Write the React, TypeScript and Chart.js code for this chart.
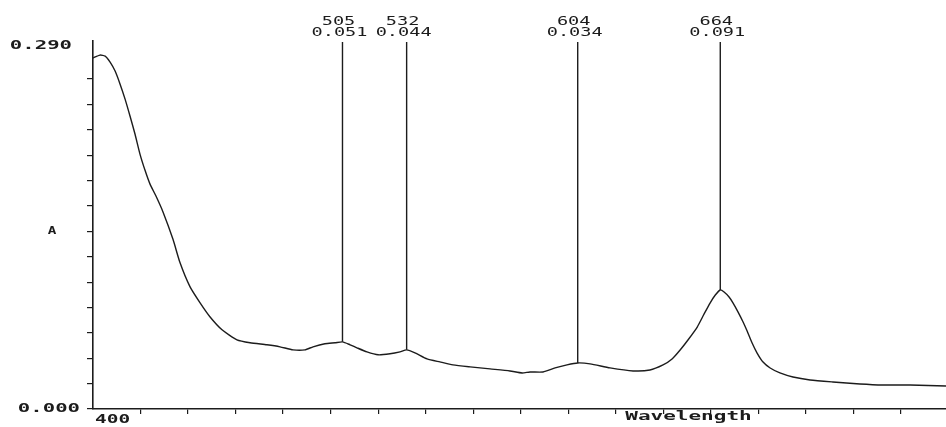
import React, { useEffect, useRef } from "react";
import { Chart, registerables } from "chart.js";

Chart.register(...registerables);

const wavelengths = [
  400, 402.9, 405.1, 407.2, 409.3, 411.4, 413.5, 415.6, 417.7, 419.8, 421.9, 424, 426.5, 429.5, 433.7,
  436.6, 440.8, 445, 449.2, 454.3, 460.6, 466.1, 473.2, 478.7, 484.2, 489.2, 492.6, 497.6, 501.9, 505,
  508.2, 511.1, 515.3, 520, 525, 529.2, 532, 535.5, 540.6, 546, 551.5, 558.7, 567.1, 575.5, 580.6, 583.9,
  589.4, 594.5, 599.5, 604, 609.2, 617.6, 627.3, 634.4, 639.9, 643.7, 647.1, 650.4, 654.3, 657.2, 659.7,
  661.9, 664, 665.6, 667.7, 669.4, 671.5, 673.6, 675.3, 677.4, 679.5, 682, 685, 689.1, 694.6, 701.8,
  711.4, 722.8, 732.5, 743.9, 759,
];
const absorbance = [
  0.2766, 0.2789, 0.2781, 0.2734, 0.2663, 0.256, 0.2442, 0.2307, 0.2165, 0.2007, 0.1881, 0.1772, 0.1678,
  0.1551, 0.1335, 0.1154, 0.0964, 0.0838, 0.0727, 0.0624, 0.0545, 0.0522, 0.0506, 0.049, 0.0466, 0.0466,
  0.049, 0.0514, 0.0522, 0.0529, 0.0506, 0.0482, 0.045, 0.0427, 0.0435, 0.045, 0.0466, 0.0443, 0.0395,
  0.0371, 0.0348, 0.0332, 0.0316, 0.03, 0.0284, 0.0292, 0.0292, 0.0324, 0.0348, 0.0363, 0.0356, 0.0324,
  0.03, 0.0307, 0.0347, 0.0394, 0.0465, 0.0544, 0.0646, 0.0749, 0.0835, 0.0898, 0.0938, 0.0922, 0.0883,
  0.0835, 0.0764, 0.0686, 0.0615, 0.052, 0.0441, 0.037, 0.0323, 0.0284, 0.0252, 0.0229, 0.0213, 0.0197,
  0.0189, 0.0189, 0.0181,
];
const peakWavelengths = [505, 532, 604, 664];
const peakValues = [0.051, 0.044, 0.034, 0.091];
const yAxisLabels = ["0.000", "0.290"];
const xStartLabel = "400";
const xTitle = "Wavelength";
const yTitle = "A";

const INK = "#1c1c1c";
const MONO = "'DejaVu Sans Mono', 'Liberation Mono', monospace";

function drawWide(
  ctx: CanvasRenderingContext2D,
  text: string,
  x: number,
  y: number,
  align: "left" | "right" | "center",
  font: string,
  stretch: number
) {
  ctx.save();
  ctx.font = font;
  ctx.textBaseline = "middle";
  ctx.textAlign = "left";
  const w = ctx.measureText(text).width * stretch;
  let sx = x;
  if (align === "center") sx = x - w / 2;
  else if (align === "right") sx = x - w;
  ctx.translate(sx, y);
  ctx.scale(stretch, 1);
  ctx.fillStyle = INK;
  ctx.fillText(text, 0, 0);
  ctx.restore();
}

const annotations = {
  id: "spectrumAnnotations",
  beforeDraw(chart: any) {
    const { ctx, width, height } = chart;
    ctx.save();
    ctx.fillStyle = "#ffffff";
    ctx.fillRect(0, 0, width, height);
    ctx.restore();
  },
  afterDraw(chart: any) {
    const { ctx, chartArea } = chart;
    const xs = chart.scales.x;
    const ys = chart.scales.y;
    const bold = `bold 12px ${MONO}`;
    const reg = `12px ${MONO}`;

    peakWavelengths.forEach((wl, i) => {
      const idx = wavelengths.indexOf(wl);
      const px = xs.getPixelForValue(wl);
      const py = ys.getPixelForValue(absorbance[idx]);
      ctx.save();
      ctx.strokeStyle = INK;
      ctx.lineWidth = 1.4;
      ctx.beginPath();
      ctx.moveTo(px, chartArea.top + 1);
      ctx.lineTo(px, py);
      ctx.stroke();
      ctx.restore();
      drawWide(ctx, String(wl), px - 4, chartArea.top - 19, "center", reg, 1.55);
      drawWide(ctx, peakValues[i].toFixed(3), px - 3, chartArea.top - 8, "center", reg, 1.55);
    });

    drawWide(ctx, yAxisLabels[1], 72, ys.getPixelForValue(0.29) + 5, "right", bold, 1.72);
    drawWide(ctx, yAxisLabels[0], 80, ys.getPixelForValue(0), "right", bold, 1.72);
    drawWide(ctx, xStartLabel, 95, chartArea.bottom + 11, "left", bold, 1.62);
    drawWide(ctx, yTitle, 52, ys.getPixelForValue(0.14), "center", `bold 11px ${MONO}`, 1.3);
    drawWide(ctx, xTitle, xs.getPixelForValue(624), chartArea.bottom + 8, "left", bold, 1.75);
  },
};

export default function App() {
  const ref = useRef<HTMLCanvasElement | null>(null);

  useEffect(() => {
    if (!ref.current) return;
    const points = wavelengths.map((w, i) => ({ x: w, y: absorbance[i] }));
    const chart = new Chart(ref.current, {
      type: "line",
      data: {
        datasets: [
          {
            data: points,
            borderColor: INK,
            borderWidth: 1.4,
            pointRadius: 0,
            tension: 0.2,
            fill: false,
          },
        ],
      },
      options: {
        animation: false,
        responsive: true,
        maintainAspectRatio: false,
        layout: { padding: { top: 41, right: 0, left: 0, bottom: 0 } },
        plugins: { legend: { display: false }, tooltip: { enabled: false } },
        scales: {
          x: {
            type: "linear",
            min: 400,
            max: 759,
            ticks: { display: false, stepSize: 20 },
            grid: { drawOnChartArea: false, drawTicks: true, tickLength: 5, color: INK, lineWidth: 1.2 },
            border: { display: true, color: INK, width: 1.6 },
            afterBuildTicks: (s: any) => {
              s.ticks = s.ticks.filter((t: any) => t.value > 400 && t.value < 759);
            },
            afterFit: (s: any) => {
              s.height = 18;
            },
          },
          y: {
            type: "linear",
            min: 0,
            max: 0.29,
            ticks: { display: false, stepSize: 0.02 },
            grid: { drawOnChartArea: false, drawTicks: true, tickLength: 6, color: INK, lineWidth: 1.2 },
            border: { display: true, color: INK, width: 1.6 },
            afterBuildTicks: (s: any) => {
              s.ticks = s.ticks.filter((t: any) => t.value < 0.289);
            },
            afterFit: (s: any) => {
              s.width = 93;
            },
          },
        },
      },
      plugins: [annotations],
    });
    return () => chart.destroy();
  }, []);

  return (
    <div style={{ position: "fixed", left: 0, top: 0, width: 946, height: 427, background: "#fff" }}>
      <canvas ref={ref} />
    </div>
  );
}
